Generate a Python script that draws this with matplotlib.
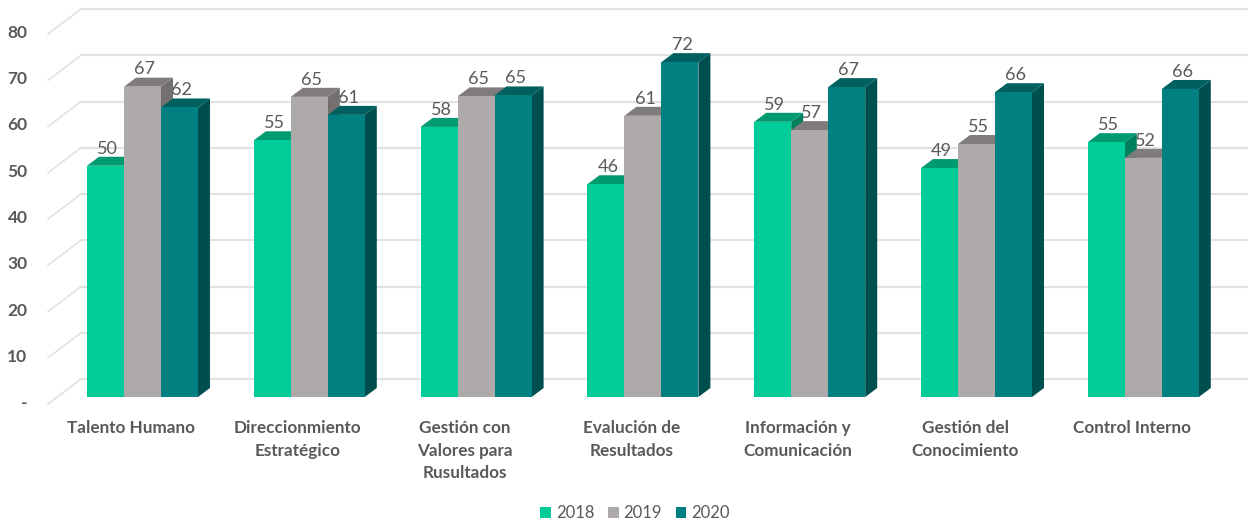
import matplotlib
matplotlib.use("Agg")
import matplotlib.pyplot as plt
from matplotlib.patches import Polygon, Rectangle, Patch
import numpy as np

plt.rcParams['font.family'] = ['Lato', 'DejaVu Sans']

categories = ["Talento Humano", "Direccionmiento\nEstratégico", "Gestión con\nValores para\nRusultados",
              "Evalución de\nResultados", "Información y\nComunicación", "Gestión del\nConocimiento", "Control Interno"]
years = ["2018", "2019", "2020"]
v2018 = [50.0, 55.5, 58.4, 46.0, 59.5, 49.5, 55.1]
v2019 = [67.1, 64.9, 65.0, 60.8, 57.7, 54.7, 51.7]
v2020 = [62.6, 61.0, 65.2, 72.4, 67.0, 65.9, 66.6]
labels2018 = [50, 55, 58, 46, 59, 49, 55]
labels2019 = [67, 65, 65, 61, 57, 55, 52]
labels2020 = [62, 61, 65, 72, 67, 66, 66]
yticks = [0, 10, 20, 30, 40, 50, 60, 70, 80]
ytick_labels = ["-", "10", "20", "30", "40", "50", "60", "70", "80"]

front_colors = ["#00CC99", "#AEAAAA", "#008080"]
top_colors = ["#009A70", "#807C7C", "#006060"]
side_colors = ["#00805F", "#747070", "#004F4F"]
TEXT = "#595959"

W, H = 1248, 520
GROUP_PX = 166.8
UNIT_PX = 4.625
X0_PX = 142.5      # centre of first group
Y0_PX = 397        # bottom of the bars

fig = plt.figure(figsize=(W / 100, H / 100), dpi=100, facecolor="white")
left = X0_PX - 0.5 * GROUP_PX
ax = fig.add_axes([left / W, (H - Y0_PX) / H, 7 * GROUP_PX / W, 80 * UNIT_PX / H])
for s in ax.spines.values():
    s.set_visible(False)
ax.patch.set_visible(False)

bar_w = 37 / GROUP_PX
dx = 12 / GROUP_PX
dy = 9 / UNIT_PX

# back wall gridlines and the little diagonals on the left
wall_x = (81 - X0_PX) / GROUP_PX
edge_x = (48 - X0_PX) / GROUP_PX
right_x = (W - X0_PX) / GROUP_PX
wall_dy = 18 / UNIT_PX
edge_dy = -7 / UNIT_PX
for t in yticks:
    ax.plot([wall_x, right_x], [t + wall_dy, t + wall_dy], color="#E2E2E2", lw=1.5, clip_on=False, zorder=1)
    ax.plot([edge_x, wall_x], [t + edge_dy, t + wall_dy], color="#E2E2E2", lw=1.2, clip_on=False, zorder=1)

series = [v2018, v2019, v2020]
texts = [labels2018, labels2019, labels2020]
for i in range(len(categories)):
    for j in range(3):
        val = series[j][i]
        x0 = i + (j - 1.5) * bar_w
        x1 = x0 + bar_w
        # sides under tops under fronts, that gives the right overlap between neighbours
        ax.add_patch(Polygon([(x1, 0), (x1 + dx, dy), (x1 + dx, val + dy), (x1, val)],
                             fc=side_colors[j], ec="none", clip_on=False, zorder=3))
        ax.add_patch(Polygon([(x0, val), (x0 + dx, val + dy), (x1 + dx, val + dy), (x1, val)],
                             fc=top_colors[j], ec="none", clip_on=False, zorder=3.5))
        ax.add_patch(Rectangle((x0, 0), bar_w, val, fc=front_colors[j], ec="none", clip_on=False, zorder=4))
        ax.annotate(str(texts[j][i]), (x0 + bar_w / 2, val), xytext=(1.5, 12.4), textcoords="offset points",
                    ha="center", va="center", fontsize=13, color=TEXT, zorder=2)

ax.set_xticks(np.arange(len(categories)) - 11.5 / GROUP_PX)
ax.set_xticklabels(categories, fontsize=12.3, fontweight="bold", color=TEXT, linespacing=1.5, va="top")
ax.tick_params(axis="x", length=0, pad=16.8)
ax.set_yticks([])
# value labels sit a bit under their plane, and "-" falls below the axis, so plain text here
for t, lab in zip(yticks, ytick_labels):
    ax.text((27.5 - X0_PX) / GROUP_PX, t - 6 / UNIT_PX, lab, ha="right", va="center", fontsize=12.5,
            fontweight="bold", color=TEXT, clip_on=False)
ax.set_xlim(-0.5, 6.5)
ax.set_ylim(0, 80)

handles = [Patch(fc=c, ec="none") for c in front_colors]
fig.legend(handles, years, loc="center", bbox_to_anchor=(635 / W, 1 - 513 / H), ncol=3, frameon=False,
           fontsize=12, labelcolor=TEXT, handlelength=0.65, handleheight=0.65, handletextpad=0.3, columnspacing=0.8)

fig.savefig("out.png", dpi=100)
